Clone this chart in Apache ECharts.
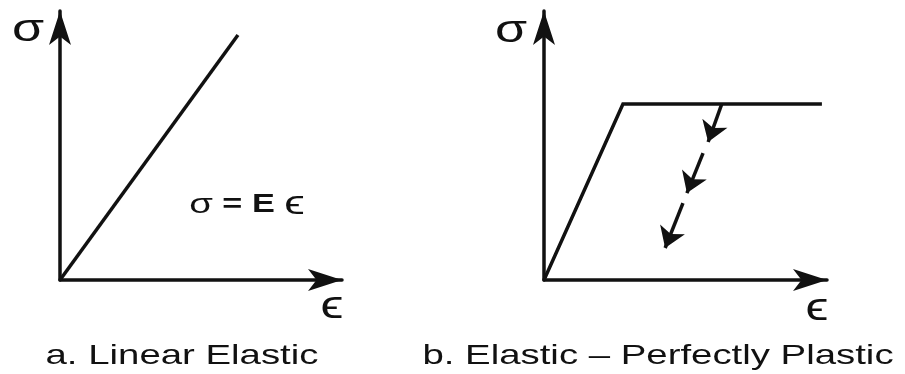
<!DOCTYPE html>
<html>
<head>
<meta charset="utf-8">
<script src="https://cdn.jsdelivr.net/npm/echarts@6/dist/echarts.min.js"></script>
<style>
  html, body { margin: 0; padding: 0; background: #fff; }
  #chart { width: 905px; height: 374px; }
</style>
</head>
<body>
<div id="chart"></div>
<script>
// Idealised stress–strain laws, in arbitrary units (both axes run 0–10)
const linearElastic = [[0, 0], [6.31, 9.11]];
const elasticPlastic = [[0, 0], [2.79, 6.54], [9.82, 6.54]];
// Unloading path from the yield plateau, drawn as three arrowed dashes
const unloadingDashes = [
  [[6.28, 6.54], [5.80, 5.13]],
  [[5.62, 4.72], [5.05, 3.23]],
  [[4.91, 2.86], [4.28, 1.19]]
];
const panelTitles = ['a. Linear Elastic', 'b. Elastic \u2013 Perfectly Plastic'];
const stressSymbol = '\u03C3';
const strainSymbol = '\u03F5';

const INK = '#111';
const FONT = '"Liberation Sans", Arial, "DejaVu Sans", sans-serif';
const STRETCH = 1.37;   // wide lettering used throughout the figure

function makeAxis(gridIndex) {
  return {
    type: 'value',
    gridIndex: gridIndex,
    min: 0,
    max: 10,
    axisLine: {
      show: true,
      onZero: false,
      symbol: ['none', 'arrow'],
      symbolSize: [16.5, 34],
      lineStyle: { color: INK, width: 3.5 }
    },
    axisTick: { show: false },
    axisLabel: { show: false },
    splitLine: { show: false }
  };
}

function label(text, x, y, size, weight) {
  return {
    type: 'text',
    x: x,
    y: y,
    scaleX: STRETCH,
    silent: true,
    style: {
      text: text,
      font: (weight || 'normal') + ' ' + size + 'px ' + FONT,
      fill: INK,
      align: 'center',
      verticalAlign: 'middle'
    }
  };
}

const chart = echarts.init(document.getElementById('chart'), null, { renderer: 'canvas' });

chart.setOption({
  animation: false,
  backgroundColor: '#fff',
  grid: [
    { left: 60, top: 11, width: 282, height: 269 },
    { left: 544, top: 11, width: 283, height: 269 }
  ],
  xAxis: [makeAxis(0), makeAxis(1)],
  yAxis: [makeAxis(0), makeAxis(1)],
  series: [
    {
      type: 'line',
      xAxisIndex: 0,
      yAxisIndex: 0,
      data: linearElastic,
      symbol: 'none',
      silent: true,
      lineStyle: { color: INK, width: 3.5 }
    },
    {
      type: 'line',
      xAxisIndex: 1,
      yAxisIndex: 1,
      data: elasticPlastic,
      symbol: 'none',
      silent: true,
      lineStyle: { color: INK, width: 3.5, join: 'miter' }
    },
    {
      type: 'lines',
      coordinateSystem: 'cartesian2d',
      xAxisIndex: 1,
      yAxisIndex: 1,
      silent: true,
      symbol: ['none', 'arrow'],
      symbolSize: 20,
      lineStyle: { color: INK, width: 3.5, opacity: 1, curveness: 0 },
      data: unloadingDashes.map(function (c) { return { coords: c }; })
    }
  ],
  graphic: [
    label(stressSymbol, 28, 31, 38),
    label(stressSymbol, 511, 32, 38),
    label(strainSymbol, 332, 308, 38),
    label(strainSymbol, 817, 310, 38),
    {
      type: 'text',
      x: 247,
      y: 205,
      scaleX: STRETCH,
      silent: true,
      style: {
        text: '{s|' + stressSymbol + '} {b|=} {b|E} {e|' + strainSymbol + '}',
        font: '25px ' + FONT,
        fill: INK,
        align: 'center',
        verticalAlign: 'middle',
        rich: {
          s: { font: '28px ' + FONT, fill: INK },
          e: { font: '34px ' + FONT, fill: INK },
          b: { font: 'bold 25px ' + FONT, fill: INK }
        }
      }
    },
    label(panelTitles[0], 182, 356, 28),
    label(panelTitles[1], 658, 356, 28)
  ]
});
</script>
</body>
</html>
